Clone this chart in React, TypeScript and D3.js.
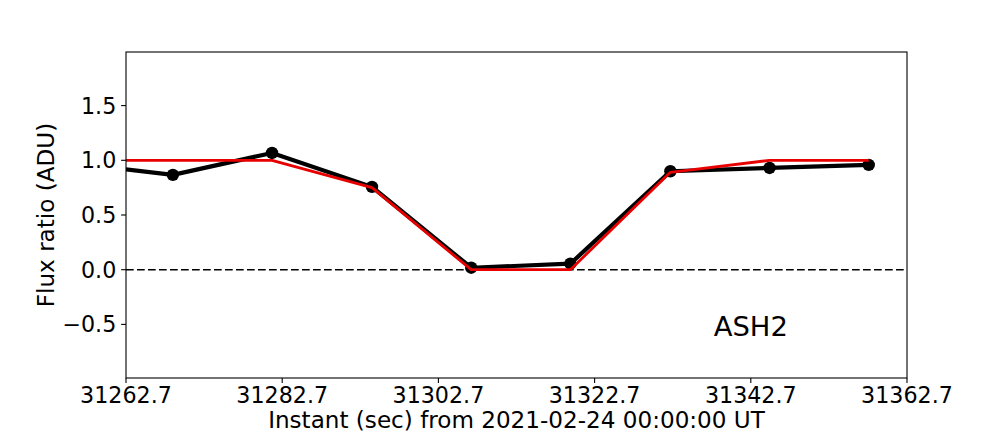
import React from "react";
import * as d3 from "d3";

const times = [31256.0, 31268.7, 31281.4, 31294.2, 31306.9, 31319.6, 31332.4, 31345.1, 31357.8];
const observed = [0.975, 0.867, 1.067, 0.757, 0.018, 0.055, 0.9, 0.93, 0.958];
const model = [1.0, 1.0, 1.0, 0.75, 0.0, 0.0, 0.89, 1.0, 1.0];
const xTicks = [31262.7, 31282.7, 31302.7, 31322.7, 31342.7, 31362.7];
const yTicks = [-0.5, 0.0, 0.5, 1.0, 1.5];
const xDomain = [31262.7, 31362.7];
const yDomain = [-0.99, 1.99];
const label = "ASH2";

export default function App() {
  const W = 1008, H = 432;
  const L = 126, R = 907, T = 52, B = 378;
  const x = d3.scaleLinear().domain(xDomain).range([L, R]);
  const y = d3.scaleLinear().domain(yDomain).range([B, T]);
  const font = "DejaVu Sans, sans-serif";
  const idx = times.map((_, i) => i);
  const lineObs = d3.line<number>().x(i => x(times[i])).y(i => y(observed[i]));
  const lineMod = d3.line<number>().x(i => x(times[i])).y(i => y(model[i]));
  const visible = idx.filter(i => times[i] >= xDomain[0] && times[i] <= xDomain[1]);
  return (
    <svg width={W} height={H} style={{ position: "absolute", left: 0, top: 0, background: "#fff" }}>
      <defs>
        <clipPath id="ax">
          <rect x={L} y={T} width={R - L} height={B - T} />
        </clipPath>
      </defs>
      <rect x={0} y={0} width={W} height={H} fill="#fff" />
      <g clipPath="url(#ax)">
        <line x1={L} x2={R} y1={y(0)} y2={y(0)} stroke="#000" strokeWidth={1.6} strokeDasharray="7.7,3.3" />
        <path d={lineObs(idx) || ""} fill="none" stroke="#000" strokeWidth={4.2} strokeLinejoin="round" />
        {visible.map(i => (
          <circle key={i} cx={x(times[i])} cy={y(observed[i])} r={6.2} fill="#000" />
        ))}
        <path d={lineMod(idx) || ""} fill="none" stroke="#e80000" strokeWidth={2.8} strokeLinejoin="round" />
      </g>
      <rect x={L} y={T} width={R - L} height={B - T} fill="none" stroke="#000" strokeWidth={1.1} />
      {xTicks.map(t => (
        <g key={t}>
          <line x1={x(t)} x2={x(t)} y1={B} y2={B + 4.9} stroke="#000" strokeWidth={1.1} />
          <text x={x(t)} y={403} textAnchor="middle" fontFamily={font} fontSize={22.2} fill="#000">
            {t.toFixed(1)}
          </text>
        </g>
      ))}
      {yTicks.map(t => (
        <g key={t}>
          <line x1={L - 4.9} x2={L} y1={y(t)} y2={y(t)} stroke="#000" strokeWidth={1.1} />
          <text x={L - 9.7} y={y(t)} dy="0.36em" textAnchor="end" fontFamily={font} fontSize={22.2} fill="#000">
            {t < 0 ? "\u2212" + Math.abs(t).toFixed(1) : t.toFixed(1)}
          </text>
        </g>
      ))}
      <text x={(L + R) / 2} y={427.5} textAnchor="middle" fontFamily={font} fontSize={23.1} fill="#000">
        Instant (sec) from 2021-02-24 00:00:00 UT
      </text>
      <text transform={`translate(54,${(T + B) / 2}) rotate(-90)`} textAnchor="middle" fontFamily={font} fontSize={23.1} fill="#000">
        Flux ratio (ADU)
      </text>
      <text x={L + 0.8 * (R - L)} y={336} textAnchor="middle" fontFamily={font} fontSize={27.4} fill="#000">
        {label}
      </text>
    </svg>
  );
}
